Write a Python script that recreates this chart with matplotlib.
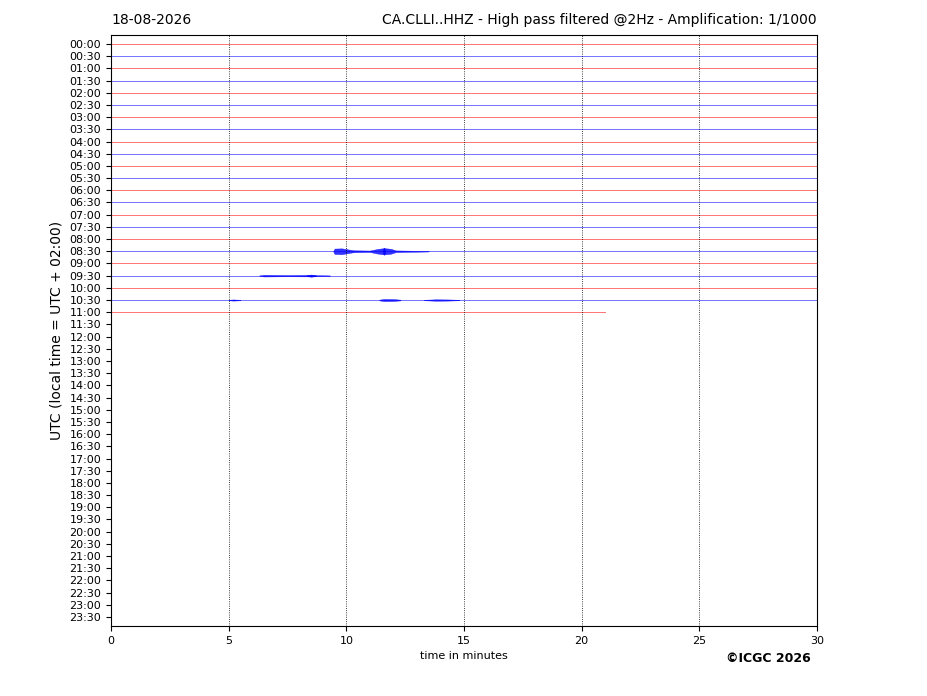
"""Helicorder style plot of a day of seismic trace (CA.CLLI..HHZ)."""

import matplotlib

matplotlib.use("Agg")
import matplotlib.pyplot as plt
import numpy as np

# Row labels, one trace every 30 minutes
row_labels = [f"{h:02d}:{m:02d}" for h in range(24) for m in (0, 30)]
# Rows that have data, and the minute where each one stops
rows_recorded = 23
row_end_minutes = [30.0] * 22 + [21.0]

# Event envelopes: row index, times (min), half amplitude (row units)
event_rows = [17, 17, 17, 19, 19, 21, 21, 21]
event_times = [
    [9.45, 9.5, 9.8, 10.0, 10.3],
    [10.3, 11.0, 11.3, 11.6, 11.9, 12.1, 13.5],
    [11.55, 11.6, 11.65],
    [6.3, 6.5, 7.5, 8.2, 8.8, 9.3],
    [8.3, 8.5, 8.7],
    [5.0, 5.2, 5.5],
    [11.4, 11.6, 12.0, 12.3],
    [13.3, 13.8, 14.3, 14.8],
]
event_amps = [
    [0.05, 0.22, 0.24, 0.18, 0.08],
    [0.08, 0.06, 0.18, 0.26, 0.2, 0.07, 0.02],
    [0.1, 0.3, 0.1],
    [0.02, 0.07, 0.05, 0.06, 0.04, 0.02],
    [0.04, 0.09, 0.04],
    [0.02, 0.05, 0.02],
    [0.03, 0.09, 0.08, 0.03],
    [0.02, 0.06, 0.05, 0.02],
]

fig = plt.figure(figsize=(9.27, 6.96), dpi=100)
ax = fig.add_axes([111 / 927, 1 - 626 / 696, 706 / 927, 591 / 696])

colors = ["red", "blue"]
for i in range(rows_recorded):
    ax.plot([0, row_end_minutes[i]], [i, i], color=colors[i % 2],
            lw=0.7, alpha=0.55)

for row, t, a in zip(event_rows, event_times, event_amps):
    t = np.array(t)
    a = np.array(a)
    ax.fill_between(t, row - a, row + a, color=colors[row % 2], lw=0.3,
                    alpha=0.8)

# dotted vertical grid every 5 minutes
for x in range(5, 30, 5):
    ax.axvline(x, color="black", ls=":", lw=0.6)

ax.set_xlim(0, 30)
ax.set_ylim(len(row_labels) - 0.26, -0.74)
ax.set_xticks(range(0, 31, 5))
ax.set_yticks(range(len(row_labels)))
ax.set_yticklabels(row_labels)
ax.tick_params(labelsize=8)
ax.set_xlabel("time in minutes", fontsize=8)
ax.set_ylabel("UTC (local time = UTC + 02:00)", fontsize=10)

fig.text(111 / 927, 1 - 20 / 696, "18-08-2026", fontsize=10, va="center")
fig.text(817 / 927, 1 - 20 / 696,
         "CA.CLLI..HHZ - High pass filtered @2Hz - Amplification: 1/1000",
         fontsize=10, va="center", ha="right")
fig.text(811 / 927, 1 - 658 / 696, "©ICGC 2026", fontsize=9,
         fontweight="bold", ha="right", va="center")

fig.savefig("out.png", dpi=100)
